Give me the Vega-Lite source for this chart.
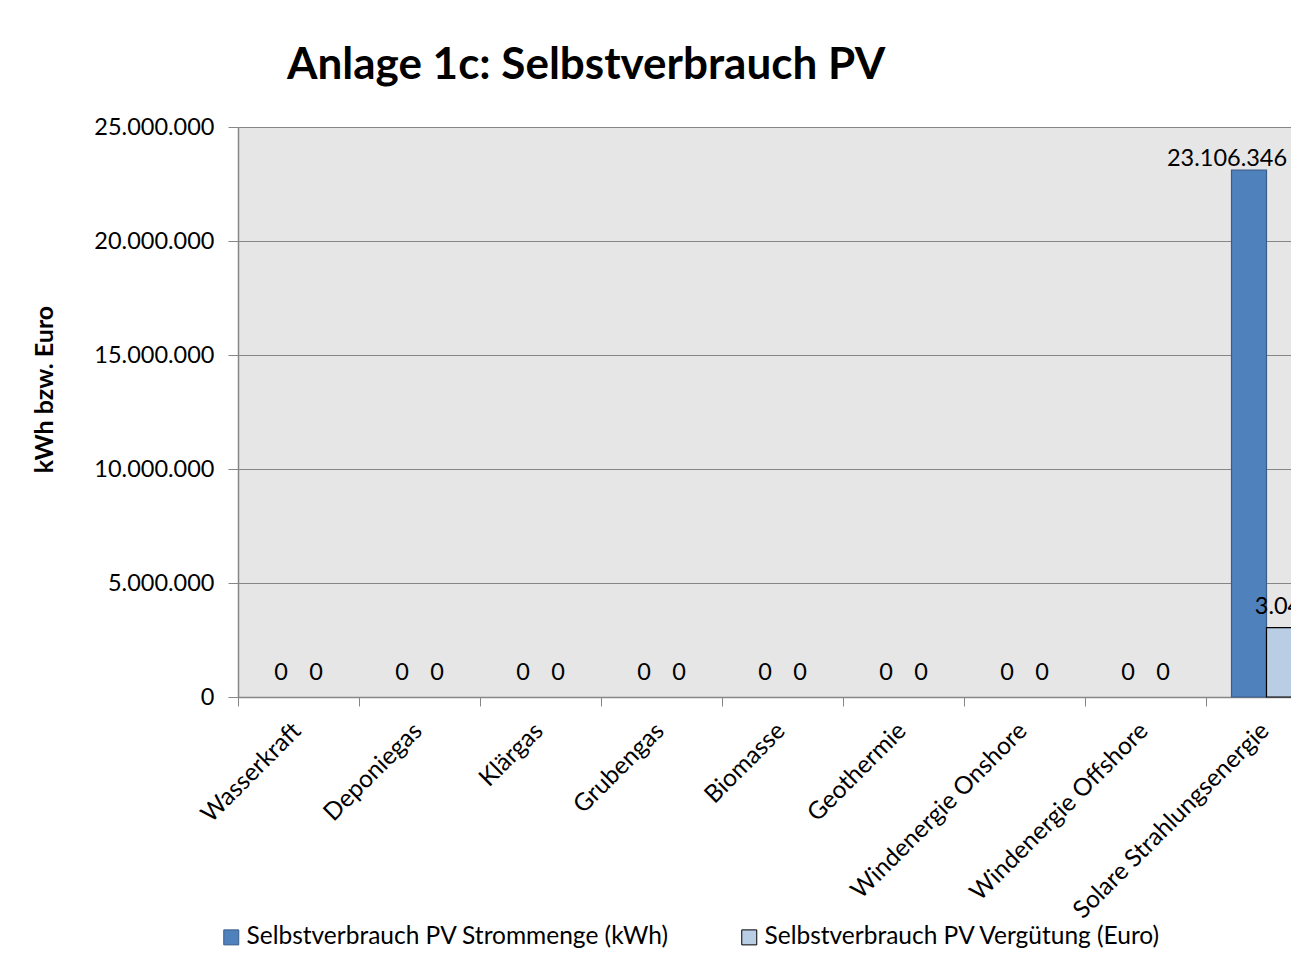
{
  "$schema": "https://vega.github.io/schema/vega-lite/v6.json",
  "width": 1053,
  "height": 570,
  "autosize": {"type": "none"},
  "padding": {"left": 238, "top": 127, "right": 0, "bottom": 271},
  "background": "white",
  "config": {
    "font": "Lato",
    "locale": {"number": {"decimal": ",", "thousands": ".", "grouping": [3], "currency": ["", " €"]}},
    "view": {"fill": "#e6e6e6", "stroke": null},
    "axis": {"domainColor": "#868686", "tickColor": "#868686", "gridColor": "#868686", "labelColor": "#000000", "titleColor": "#000000", "labelFont": "Lato", "titleFont": "Lato"}
  },
  "title": {
    "text": "Anlage 1c: Selbstverbrauch PV",
    "anchor": "start",
    "frame": "group",
    "dx": 49,
    "dy": 47,
    "fontSize": 44,
    "fontWeight": "bold",
    "font": "Lato",
    "color": "#000000",
    "baseline": "alphabetic",
    "offset": 39
  },
  "data": {
    "values": [
      {"category": "Wasserkraft", "series": "Selbstverbrauch PV Strommenge (kWh)", "value": 0},
      {"category": "Wasserkraft", "series": "Selbstverbrauch PV Vergütung (Euro)", "value": 0},
      {"category": "Deponiegas", "series": "Selbstverbrauch PV Strommenge (kWh)", "value": 0},
      {"category": "Deponiegas", "series": "Selbstverbrauch PV Vergütung (Euro)", "value": 0},
      {"category": "Klärgas", "series": "Selbstverbrauch PV Strommenge (kWh)", "value": 0},
      {"category": "Klärgas", "series": "Selbstverbrauch PV Vergütung (Euro)", "value": 0},
      {"category": "Grubengas", "series": "Selbstverbrauch PV Strommenge (kWh)", "value": 0},
      {"category": "Grubengas", "series": "Selbstverbrauch PV Vergütung (Euro)", "value": 0},
      {"category": "Biomasse", "series": "Selbstverbrauch PV Strommenge (kWh)", "value": 0},
      {"category": "Biomasse", "series": "Selbstverbrauch PV Vergütung (Euro)", "value": 0},
      {"category": "Geothermie", "series": "Selbstverbrauch PV Strommenge (kWh)", "value": 0},
      {"category": "Geothermie", "series": "Selbstverbrauch PV Vergütung (Euro)", "value": 0},
      {"category": "Windenergie Onshore", "series": "Selbstverbrauch PV Strommenge (kWh)", "value": 0},
      {"category": "Windenergie Onshore", "series": "Selbstverbrauch PV Vergütung (Euro)", "value": 0},
      {"category": "Windenergie Offshore", "series": "Selbstverbrauch PV Strommenge (kWh)", "value": 0},
      {"category": "Windenergie Offshore", "series": "Selbstverbrauch PV Vergütung (Euro)", "value": 0},
      {"category": "Solare Strahlungsenergie", "series": "Selbstverbrauch PV Strommenge (kWh)", "value": 23106346},
      {"category": "Solare Strahlungsenergie", "series": "Selbstverbrauch PV Vergütung (Euro)", "value": 3040000}
    ]
  },
  "encoding": {
    "x": {
      "field": "category",
      "type": "nominal",
      "sort": null,
      "scale": {
        "domain": ["Wasserkraft", "Deponiegas", "Klärgas", "Grubengas", "Biomasse", "Geothermie", "Windenergie Onshore", "Windenergie Offshore", "Solare Strahlungsenergie"],
        "range": [0, 1089], "paddingInner": 0.4215, "paddingOuter": 0.2107
      },
      "axis": {
        "title": null,
        "labelAngle": -45,
        "labelAlign": "right",
        "labelBaseline": "middle",
        "labelFontSize": 24.5,
        "tickSize": 9,
        "tickOffset": -60.5,
        "labelOffset": 59,
        "labelPadding": 21,
        "labelLimit": 0,
        "domainWidth": 1.5
      }
    },
    "xOffset": {
      "field": "series",
      "type": "nominal",
      "sort": null,
      "scale": {"domain": ["Selbstverbrauch PV Strommenge (kWh)", "Selbstverbrauch PV Vergütung (Euro)"], "paddingInner": 0, "paddingOuter": 0}
    },
    "y": {
      "field": "value",
      "type": "quantitative",
      "scale": {"domain": [0, 25000000], "nice": false},
      "axis": {
        "title": "kWh bzw. Euro",
        "titleFontSize": 25,
        "titleFontWeight": "bold",
        "titleAngle": 270,
        "titleAlign": "center",
        "titleBaseline": "middle",
        "titleX": -194,
        "titleY": 262,
        "values": [0, 5000000, 10000000, 15000000, 20000000, 25000000],
        "format": ",d",
        "labelFontSize": 23.5,
        "tickSize": 10,
        "labelPadding": 14,
        "domainWidth": 1.5,
        "grid": true
      }
    }
  },
  "layer": [
    {
      "transform": [{"filter": "datum.value > 0"}],
      "mark": {"type": "bar", "strokeWidth": 1.2},
      "encoding": {
        "fill": {
          "field": "series",
          "type": "nominal",
          "sort": null,
          "scale": {"domain": ["Selbstverbrauch PV Strommenge (kWh)", "Selbstverbrauch PV Vergütung (Euro)"], "range": ["#4f81bd", "#b9cde5"]},
          "legend": {"orient": "none", "legendX": -19, "legendY": 798, "direction": "horizontal", "title": null, "symbolType": "square", "symbolSize": 225, "symbolStrokeWidth": 1, "labelFontSize": 24.5, "labelOffset": 3, "columnPadding": 67, "labelLimit": 0, "padding": 0, "labelColor": "#000000"}
        },
        "stroke": {
          "field": "series",
          "type": "nominal",
          "sort": null,
          "scale": {"domain": ["Selbstverbrauch PV Strommenge (kWh)", "Selbstverbrauch PV Vergütung (Euro)"], "range": ["#385d8a", "#000000"]},
          "legend": {"orient": "none", "legendX": -19, "legendY": 798, "direction": "horizontal", "title": null, "symbolType": "square", "symbolSize": 225, "symbolStrokeWidth": 1, "labelFontSize": 24.5, "labelOffset": 3, "columnPadding": 67, "labelLimit": 0, "padding": 0, "labelColor": "#000000"}
        }
      }
    },
    {
      "transform": [{"filter": "datum.value == 0"}],
      "mark": {"type": "text", "fontSize": 23.5, "baseline": "alphabetic", "dy": -17, "color": "#000000"},
      "encoding": {"text": {"field": "value", "type": "quantitative", "format": ",d"}}
    },
    {
      "transform": [{"filter": "datum.value > 0 && datum.series == 'Selbstverbrauch PV Strommenge (kWh)'"}],
      "mark": {"type": "text", "fontSize": 23.5, "baseline": "alphabetic", "dy": -4, "dx": -22, "color": "#000000"},
      "encoding": {"text": {"field": "value", "type": "quantitative", "format": ",d"}}
    },
    {
      "transform": [{"filter": "datum.value > 0 && datum.series == 'Selbstverbrauch PV Vergütung (Euro)'"}],
      "mark": {"type": "text", "fontSize": 23.5, "baseline": "alphabetic", "dy": -14, "dx": 24, "color": "#000000"},
      "encoding": {"text": {"field": "value", "type": "quantitative", "format": ",d"}}
    }
  ]
}
